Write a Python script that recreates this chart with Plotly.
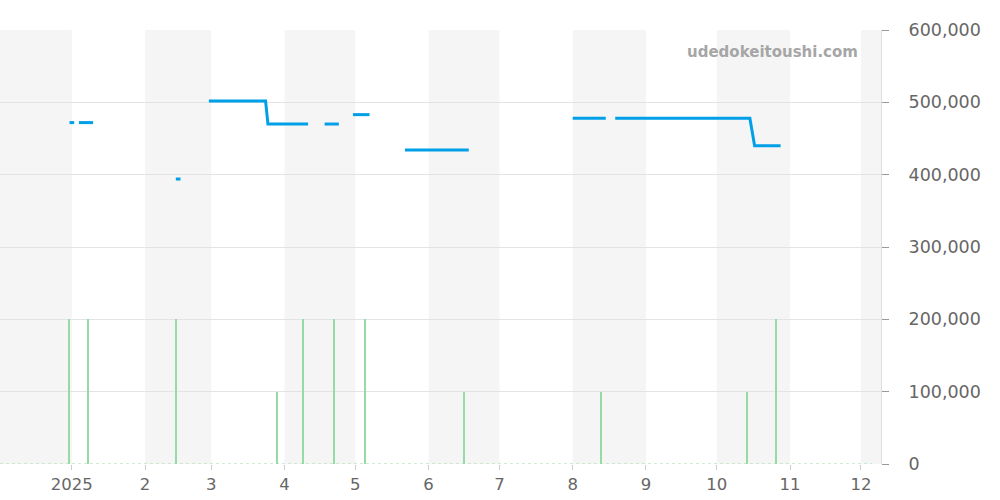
import plotly.graph_objects as go

# Price series (None = gap)
price_dates = [
    "2024-12-31", "2025-01-02", None,
    "2025-01-04", "2025-01-10", None,
    "2025-02-14", "2025-02-16", None,
    "2025-02-28", "2025-03-24", "2025-03-25", "2025-04-11", None,
    "2025-04-18", "2025-04-24", None,
    "2025-04-30", "2025-05-07", None,
    "2025-05-22", "2025-06-18", None,
    "2025-08-01", "2025-08-15", None,
    "2025-08-19", "2025-10-15", "2025-10-17", "2025-10-28",
]
price_values = [
    472000, 472000, None,
    472000, 472000, None,
    394000, 394000, None,
    502000, 502000, 470000, 470000, None,
    470000, 470000, None,
    483000, 483000, None,
    434000, 434000, None,
    478000, 478000, None,
    478000, 478000, 440000, 440000,
]

# Volume-like bars
bar_dates = [
    "2024-12-31", "2025-01-08", "2025-02-14", "2025-03-29", "2025-04-09",
    "2025-04-22", "2025-05-05", "2025-06-16", "2025-08-13", "2025-10-14",
    "2025-10-26",
]
bar_values = [
    200000, 200000, 200000, 100000, 200000,
    200000, 200000, 100000, 100000, 100000,
    200000,
]

tick_vals = ["2025-01-01", "2025-02-01", "2025-03-01", "2025-04-01", "2025-05-01",
             "2025-06-01", "2025-07-01", "2025-08-01", "2025-09-01", "2025-10-01",
             "2025-11-01", "2025-12-01"]
tick_text = ["2025", "2", "3", "4", "5", "6", "7", "8", "9", "10", "11", "12"]

shaded_months = [("2024-12-01", "2025-01-01"), ("2025-02-01", "2025-03-01"),
                 ("2025-04-01", "2025-05-01"), ("2025-06-01", "2025-07-01"),
                 ("2025-08-01", "2025-09-01"), ("2025-10-01", "2025-11-01"),
                 ("2025-12-01", "2026-01-01")]

x_range = ["2024-12-01 14:00", "2025-12-09 12:00"]

fig = go.Figure()

fig.add_trace(go.Bar(
    x=bar_dates, y=bar_values,
    width=0.5 * 86400000,
    marker=dict(color="#95dba5", line=dict(width=0)),
    showlegend=False, hoverinfo="skip",
))

fig.add_trace(go.Scatter(
    x=price_dates, y=price_values, mode="lines",
    line=dict(color="#00a0e9", width=3),
    connectgaps=False, showlegend=False,
))

shapes = []
for s, e in shaded_months:
    shapes.append(dict(type="rect", xref="x", yref="paper", x0=s, x1=e, y0=0, y1=1,
                       fillcolor="#f5f5f5", line=dict(width=0), layer="below"))
shapes.append(dict(type="line", xref="paper", yref="y", x0=0, x1=0.99, y0=0, y1=0,
                   line=dict(color="#9fd9ab", width=1.2, dash="dot"), layer="above"))

fig.update_layout(
    width=1000, height=500,
    margin=dict(l=0, r=119, t=30, b=36, autoexpand=False),
    plot_bgcolor="white", paper_bgcolor="white",
    shapes=shapes,
    bargap=0,
    font=dict(family="DejaVu Sans", color="#666666", size=16),
    annotations=[dict(
        text="<b>udedokeitoushi.com</b>", xref="paper", yref="paper",
        x=0.976, y=0.949, xanchor="right", yanchor="middle", showarrow=False,
        font=dict(family="DejaVu Sans", size=15, color="#a6a6a6"),
    )],
)

fig.update_xaxes(
    type="date", range=x_range,
    tickvals=tick_vals, ticktext=tick_text,
    showgrid=False, zeroline=False,
    ticks="outside", ticklen=5, tickcolor="#cccccc",
    showline=False, automargin=False,
    tickfont=dict(size=16.5, color="#666666"),
)

fig.update_yaxes(
    side="right", range=[0, 600000], dtick=100000,
    tickformat=",",
    showgrid=True, gridcolor="#e3e3e3", gridwidth=1,
    zeroline=False, automargin=False,
    ticks="outside", ticklen=7, tickcolor="#999999",
    showline=True, linecolor="#dddddd", linewidth=1,
    tickfont=dict(size=17.5, color="#666666"),
    ticklabelstandoff=16,
)

fig.write_html("out.html", config={"displayModeBar": False},
               post_script="document.body.style.margin='0';")
